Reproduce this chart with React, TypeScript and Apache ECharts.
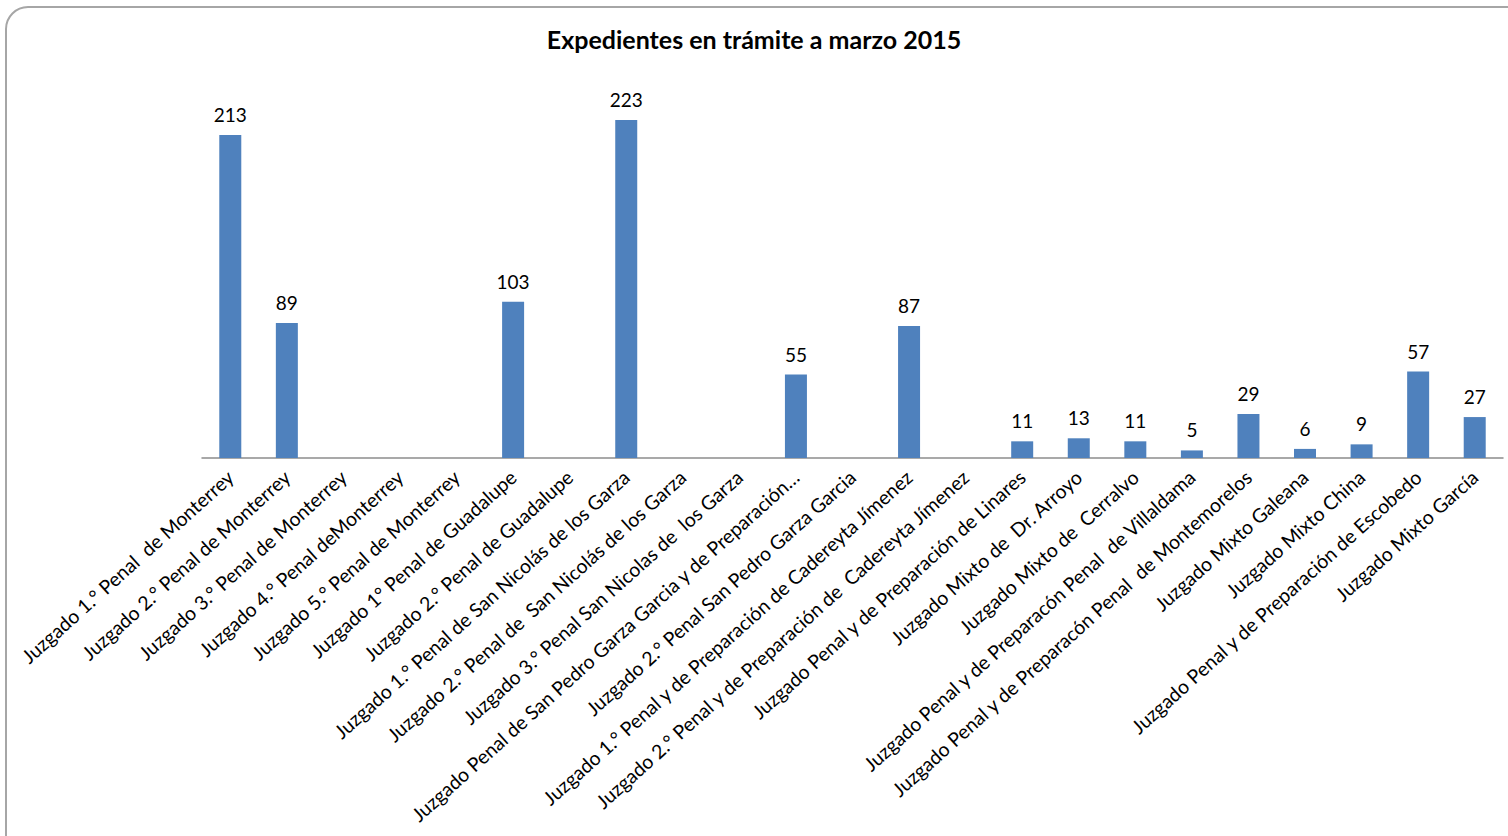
import React, { useEffect, useRef } from "react";
import * as echarts from "echarts";

const categories = [
  "Juzgado 1.° Penal  de Monterrey",
  "Juzgado 2.° Penal de Monterrey",
  "Juzgado 3.° Penal de Monterrey",
  "Juzgado 4.° Penal deMonterrey",
  "Juzgado 5.° Penal de Monterrey",
  "Juzgado 1° Penal de Guadalupe",
  "Juzgado 2.° Penal de Guadalupe",
  "Juzgado 1.° Penal de San Nicolás de los Garza",
  "Juzgado 2.° Penal de  San Nicolás de los Garza",
  "Juzgado 3.° Penal San Nicolas de  los Garza",
  "Juzgado Penal de San Pedro Garza Garcia y de Preparación…",
  "Juzgado 2.° Penal San Pedro Garza Garcia",
  "Juzgado 1.° Penal y de Preparación de Cadereyta Jímenez",
  "Juzgado 2.° Penal y de Preparación de  Cadereyta Jímenez",
  "Juzgado Penal y de Preparación de Linares",
  "Juzgado Mixto de  Dr. Arroyo",
  "Juzgado Mixto de  Cerralvo",
  "Juzgado Penal y de Preparacón Penal  de Villaldama",
  "Juzgado Penal y de Preparacón Penal  de Montemorelos",
  "Juzgado Mixto Galeana",
  "Juzgado Mixto China",
  "Juzgado Penal y de Preparación de Escobedo",
  "Juzgado Mixto García",
];

const values: (number | null)[] = [
  213, 89, null, null, null, 103, null, 223, null, null, 55, null, 87, null,
  11, 13, 11, 5, 29, 6, 9, 57, 27,
];

const title = "Expedientes en trámite a marzo 2015";

export default function App() {
  const ref = useRef<HTMLDivElement>(null);
  useEffect(() => {
    if (!ref.current) return;
    const chart = echarts.init(ref.current, null, { renderer: "svg" });
    chart.setOption({
      animation: false,
      backgroundColor: "#ffffff",
      textStyle: { fontFamily: "Lato" },
      title: {
        text: title,
        left: "center",
        top: 21,
        textStyle: {
          fontFamily: "Lato",
          fontSize: 25,
          fontWeight: "bold",
          color: "#000000",
        },
      },
      graphic: [
        {
          type: "rect",
          shape: { x: 6, y: 7, width: 1530, height: 860, r: 22 },
          style: { fill: "none", stroke: "#a6a6a6", lineWidth: 2 },
          silent: true,
        },
      ],
      grid: {
        left: 202,
        right: 5,
        top: 79,
        bottom: 378,
        containLabel: false,
        outerBoundsMode: "none",
      },
      xAxis: {
        type: "category",
        data: categories,
        axisLine: { show: true, lineStyle: { color: "#8c8c8c", width: 1.5 } },
        axisTick: { show: false },
        axisLabel: {
          interval: 0,
          rotate: 42,
          margin: 16,
          fontFamily: "Lato",
          fontSize: 19.5,
          color: "#000000",
        },
      },
      yAxis: {
        type: "value",
        min: 0,
        max: 250,
        show: false,
        splitLine: { show: false },
      },
      series: [
        {
          type: "bar",
          data: values,
          barWidth: 22,
          itemStyle: { color: "#4f81bd" },
          label: {
            show: true,
            position: "top",
            distance: 11,
            fontFamily: "Lato",
            fontSize: 19,
            color: "#000000",
          },
        },
      ],
    });
    return () => chart.dispose();
  }, []);
  return (
    <div
      ref={ref}
      style={{ position: "fixed", left: 0, top: 0, width: 1508, height: 836 }}
    />
  );
}
